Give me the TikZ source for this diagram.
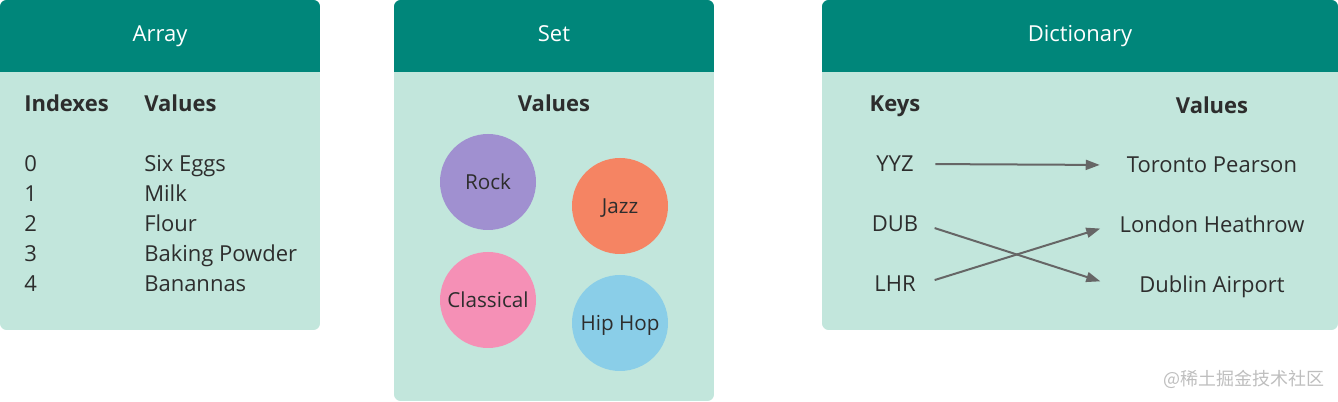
\documentclass[tikz,border=0pt]{standalone}
\usepackage{fontspec}
\setmainfont{Open Sans}
\newfontfamily\cjkfont{Noto Sans CJK SC}
\usepackage{xcolor}
\usetikzlibrary{arrows.meta}

\definecolor{headteal}{RGB}{0,134,122}
\definecolor{bodymint}{RGB}{194,230,220}
\definecolor{textgray}{RGB}{45,45,45}
\definecolor{rockpurple}{RGB}{160,144,208}
\definecolor{jazzorange}{RGB}{245,132,99}
\definecolor{classicpink}{RGB}{245,144,182}
\definecolor{hiphopblue}{RGB}{138,206,232}
\definecolor{arrowgray}{RGB}{102,102,102}
\definecolor{markgray}{RGB}{190,190,190}

\tikzset{
  headtext/.style={text=white, inner sep=0.75pt, font=\fontsize{16.5}{19}\selectfont},
  celltext/.style={text=textgray, inner sep=0.75pt, font=\fontsize{16.5}{19}\selectfont},
  boldtext/.style={text=textgray, inner sep=0.75pt, font=\fontsize{16.5}{19}\selectfont\bfseries},
  genre/.style={circle, minimum size=72pt, inner sep=0pt, text=textgray, text height=11pt, text depth=0pt, font=\fontsize{15.5}{18}\selectfont},
  keytext/.style={celltext, minimum width=40pt, text height=12pt, text depth=0pt},
  valtext/.style={celltext, minimum width=150pt, text height=12pt, text depth=0pt},
  mapto/.style={draw=arrowgray, line width=1.5pt, shorten <=10pt, shorten >=9pt, -{Triangle[length=10.5pt, width=7.5pt]}}
}

\begin{document}
\begin{tikzpicture}[x=0.75pt,y=0.75pt,yscale=-1,xscale=1]
    \useasboundingbox (0,0) rectangle (1338,402);

    %Shape: Rectangle [Array panel]
    \begin{scope}
    \clip[rounded corners=5pt] (0,0) rectangle (320,330);
    \fill[bodymint] (0,0) rectangle (320,330);
    \fill[headteal] (0,0) rectangle (320,72);
    \end{scope}
    %Shape: Rectangle [Set panel]
    \begin{scope}
    \clip[rounded corners=5pt] (394,0) rectangle (714,401);
    \fill[bodymint] (394,0) rectangle (714,401);
    \fill[headteal] (394,0) rectangle (714,72);
    \end{scope}
    %Shape: Rectangle [Dictionary panel]
    \begin{scope}
    \clip[rounded corners=5pt] (822,0) rectangle (1338,330);
    \fill[bodymint] (822,0) rectangle (1338,330);
    \fill[headteal] (822,0) rectangle (1338,72);
    \end{scope}

    % Text Node
    \node[headtext, anchor=base] (arrayhead) at (160,42) {Array};
    \node[headtext, anchor=base] (sethead) at (554,42) {Set};
    \node[headtext, anchor=base] (dicthead) at (1080,42) {Dictionary};

    % Text Node
    \node[boldtext, anchor=base west] (idxhead) at (23,112) {Indexes};
    \node[boldtext, anchor=base west] (arrvalhead) at (143,112) {Values};
    % Text Node
    \node[celltext, anchor=base west] (idx0) at (23,172) {0};
    \node[celltext, anchor=base west] (idx1) at (23,202) {1};
    \node[celltext, anchor=base west] (idx2) at (23,232) {2};
    \node[celltext, anchor=base west] (idx3) at (23,262) {3};
    \node[celltext, anchor=base west] (idx4) at (23,292) {4};
    % Text Node
    \node[celltext, anchor=base west] (eggs) at (143,172) {Six Eggs};
    \node[celltext, anchor=base west] (milk) at (143,202) {Milk};
    \node[celltext, anchor=base west] (flour) at (143,232) {Flour};
    \node[celltext, anchor=base west] (powder) at (143,262) {Baking Powder};
    \node[celltext, anchor=base west] (bananas) at (143,292) {Banannas};

    % Text Node
    \node[boldtext, anchor=base] (setvalhead) at (554,112) {Values};
    %Shape: Circle
    \node[genre, fill=rockpurple] (rock) at (488,182) {Rock};
    \node[genre, fill=jazzorange] (jazz) at (620,206) {Jazz};
    \node[genre, fill=classicpink] (classical) at (488,300) {Classical};
    \node[genre, fill=hiphopblue] (hiphop) at (620,323) {Hip Hop};

    % Text Node
    \node[boldtext, anchor=base] (keyhead) at (895,112) {Keys};
    \node[boldtext, anchor=base] (dictvalhead) at (1212,114) {Values};
    % Text Node
    \node[keytext, anchor=base] (yyz) at (895,172) {YYZ};
    \node[keytext, anchor=base] (dub) at (895,232) {DUB};
    \node[keytext, anchor=base] (lhr) at (895,292) {LHR};
    % Text Node
    \node[valtext, anchor=base] (toronto) at (1212,173) {Toronto Pearson};
    \node[valtext, anchor=base] (heathrow) at (1212,233) {London Heathrow};
    \node[valtext, anchor=base] (dublin) at (1212,293) {Dublin Airport};

    %Straight Lines
    \draw[mapto] (yyz.east) -- (toronto.west);
    \draw[mapto] (dub.east) -- (dublin.west);
    \draw[mapto] (lhr.east) -- (heathrow.west);

    % Text Node
    \node[text=markgray, inner sep=0pt, font=\cjkfont\fontsize{13.5}{16}\selectfont] (watermark) at (1244,379) {@稀土掘金技术社区};

\end{tikzpicture}
\end{document}
